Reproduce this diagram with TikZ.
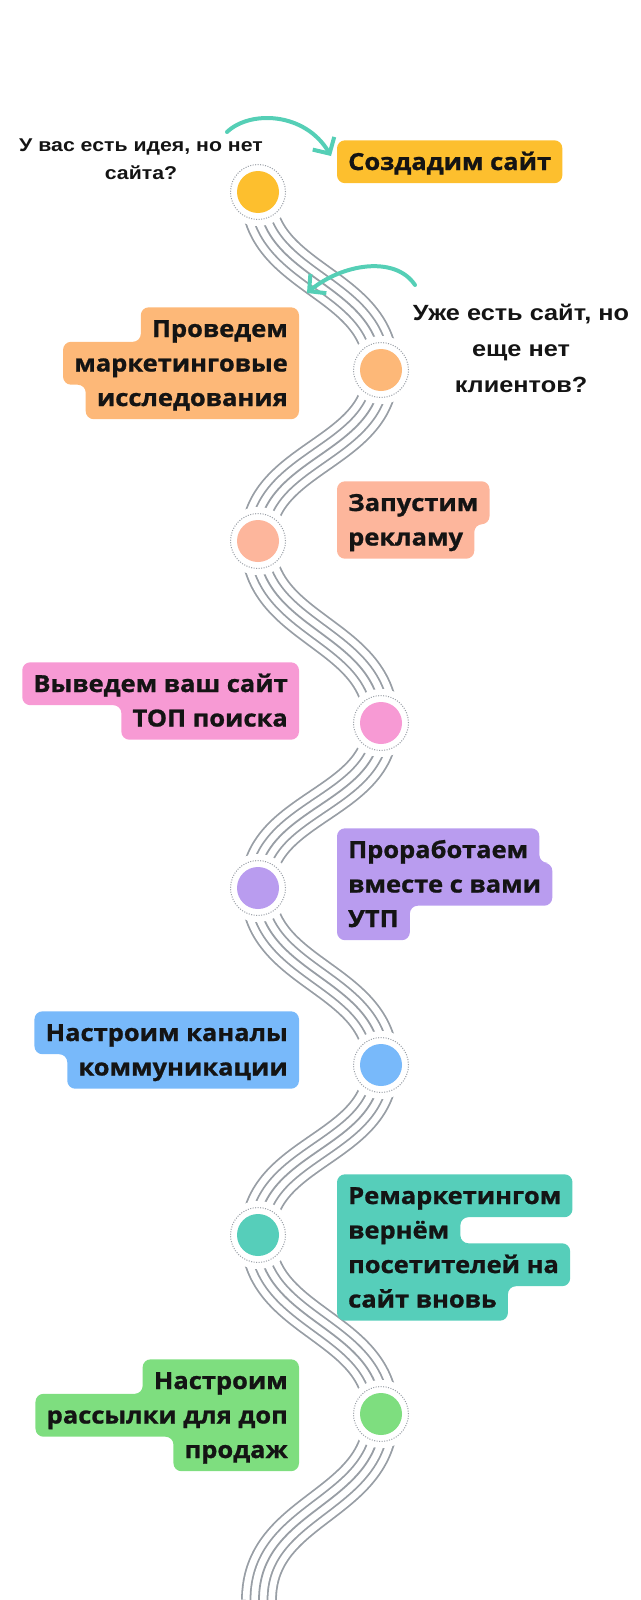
\documentclass[tikz,border=0pt]{standalone}
\usepackage{fontspec}
\setmainfont{Open Sans}
\newfontfamily\boxfont{Open Sans}[FakeStretch=1.085,FakeBold=1]
\newfontfamily\qfont{Liberation Sans}[FakeStretch=1.15]
\usetikzlibrary{arrows.meta}
\pgfdeclarelayer{wave}
\pgfdeclarelayer{boxbg}
\pgfsetlayers{wave,boxbg,main}
\definecolor{cyellow}{HTML}{FDBF2E}
\definecolor{corange}{HTML}{FDB878}
\definecolor{csalmon}{HTML}{FDB69C}
\definecolor{cpink}{HTML}{F79AD4}
\definecolor{cpurple}{HTML}{B99CEF}
\definecolor{cblue}{HTML}{78B9FA}
\definecolor{cteal}{HTML}{56CEBA}
\definecolor{cgreen}{HTML}{7EDE7F}
\definecolor{carrow}{HTML}{55CFB6}
\definecolor{wavegray}{HTML}{989EA5}
\definecolor{txt}{HTML}{141414}
\def\boxfnt{\boxfont\bfseries\fontsize{23.5pt}{34.5pt}\selectfont}
\def\wavepath{(258,192) .. controls (258,281) and (381,281) .. (381,370)
 .. controls (381,455) and (258,456) .. (258,541)
 .. controls (258,632) and (381,632) .. (381,723)
 .. controls (381,805) and (258,806) .. (258,888)
 .. controls (258,976) and (381,977) .. (381,1065)
 .. controls (381,1150) and (258,1150) .. (258,1235)
 .. controls (258,1324) and (381,1325) .. (381,1414)
 .. controls (381,1507) and (259,1507) .. (259,1600)}
\begin{document}
\begin{tikzpicture}[x=1pt,y=-1pt,
  boxline/.style={inner xsep=11pt, inner ysep=10pt,
    text height=19.5pt, text depth=3pt, font=\boxfnt, text=txt},
  lbox/.style={boxline, anchor=base east},
  rbox/.style={boxline, anchor=base west},
  boxfill/.style={fill=#1, rounded corners=8pt},
  cover/.style={circle, fill=white, minimum size=68pt, inner sep=0pt},
  ring/.style={circle, draw=wavegray, fill=white, line width=1pt,
    dash pattern=on 1pt off 1.5pt, minimum size=55pt, inner sep=0pt},
  dot/.style={circle, fill=#1, minimum size=42pt, inner sep=0pt},
  qtext/.style={align=center, inner sep=0pt, text=txt},
  qarrow/.style={draw=carrow, line width=4pt, line cap=round,
    -{Straight Barb[length=12pt,width=25pt]}}
]
\useasboundingbox (0,0) rectangle (640,1600);
\begin{pgfonlayer}{wave}
\begin{scope}
\clip (0,0) rectangle (640,1600);
% wave bundle of five parallel lines
\draw[wavegray, line width=35.8pt] \wavepath;
\draw[white, line width=32.2pt] \wavepath;
\draw[wavegray, line width=18.8pt] \wavepath;
\draw[white, line width=15.2pt] \wavepath;
\draw[wavegray, line width=1.8pt] \wavepath;
\end{scope}
% stations
\foreach \i/\x/\y/\c in {1/258/192/cyellow, 2/381/370/corange, 3/258/541/csalmon,
  4/381/723/cpink, 5/258/888/cpurple, 6/381/1065/cblue, 7/258/1235/cteal, 8/381/1414/cgreen}{
  \node[cover] (k\i) at (\x,\y) {};
  \node[ring] (r\i) at (\x,\y) {};
  \node[dot=\c] (c\i) at (\x,\y) {};
}
\end{pgfonlayer}

% box texts, one node per line
\node[rbox] (b1) at (337,170) {Создадим сайт};

\node[lbox] (b2a) at (299,337) {Проведем};
\node[lbox] (b2b) at (299,371.5) {маркетинговые};
\node[lbox] (b2c) at (299,406) {исследования};

\node[rbox] (b3a) at (337,511) {Запустим};
\node[rbox] (b3b) at (337,545.5) {рекламу};

\node[lbox] (b4a) at (299,692) {Выведем ваш сайт};
\node[lbox] (b4b) at (299,726.5) {ТОП поиска};

\node[rbox] (b5a) at (337,858) {Проработаем};
\node[rbox] (b5b) at (337,892.5) {вместе с вами};
\node[rbox] (b5c) at (337,927) {УТП};

\node[lbox] (b6a) at (299,1041) {Настроим каналы};
\node[lbox] (b6b) at (299,1075.5) {коммуникации};

\node[rbox] (b7a) at (337,1204) {Ремаркетингом};
\node[rbox] (b7b) at (337,1238.5) {вернём};
\node[rbox] (b7c) at (337,1273) {посетителей на};
\node[rbox] (b7d) at (337,1307.5) {сайт вновь};

\node[lbox] (b8a) at (299,1389) {Настроим};
\node[lbox] (b8b) at (299,1423.5) {рассылки для доп};
\node[lbox] (b8c) at (299,1458) {продаж};

% box backgrounds: union of the line boxes
\begin{pgfonlayer}{boxbg}
\fill[boxfill=cyellow] (b1.east) -- (b1.south east) -- (b1.south west)
  -- (b1.north west) -- (b1.north east) -- cycle;
\fill[boxfill=corange] (b2b.east) -- (b2c.south east) -- (b2c.south west)
  -- (b2c.west |- b2b.south) -- (b2b.south west) -- (b2b.north west)
  -- (b2a.west |- b2b.north) -- (b2a.north west) -- (b2a.north east) -- cycle;
\fill[boxfill=csalmon] (b3a.west) -- (b3a.north west) -- (b3a.north east)
  -- (b3a.south east) -- (b3b.east |- b3a.south) -- (b3b.south east)
  -- (b3b.south west) -- cycle;
\fill[boxfill=cpink] (b4a.east) -- (b4b.south east) -- (b4b.south west)
  -- (b4b.west |- b4a.south) -- (b4a.south west) -- (b4a.north west)
  -- (b4a.north east) -- cycle;
\fill[boxfill=cpurple] (b5b.west) -- (b5a.north west) -- (b5a.north east)
  -- (b5a.east |- b5b.north) -- (b5b.north east) -- (b5b.south east)
  -- (b5c.east |- b5b.south) -- (b5c.south east) -- (b5c.south west) -- cycle;
\fill[boxfill=cblue] (b6a.east) -- (b6b.south east) -- (b6b.south west)
  -- (b6b.west |- b6a.south) -- (b6a.south west) -- (b6a.north west)
  -- (b6a.north east) -- cycle;
\fill[boxfill=cteal] (b7b.west) -- (b7a.north west) -- (b7a.north east)
  -- (b7a.south east) -- (b7b.east |- b7a.south) -- (b7b.east |- b7c.north)
  -- (b7c.north east) -- (b7c.south east) -- (b7d.east |- b7c.south)
  -- (b7d.south east) -- (b7d.south west) -- cycle;
\fill[boxfill=cgreen] (b8b.east) -- (b8c.south east) -- (b8c.south west)
  -- (b8c.west |- b8b.south) -- (b8b.south west) -- (b8b.north west)
  -- (b8a.west |- b8b.north) -- (b8a.north west) -- (b8a.north east) -- cycle;
\end{pgfonlayer}

% questions
\node[qtext, anchor=north, font=\qfont\bfseries\fontsize{18.5pt}{28pt}\selectfont]
  (q1) at (141,139) {У вас есть идея, но нет\\сайта?};
\node[qtext, anchor=north, font=\qfont\bfseries\fontsize{22pt}{36pt}\selectfont]
  (q2) at (521,304) {Уже есть сайт, но\\еще нет\\клиентов?};

% arrows
\coordinate (a1s) at (227,132);
\coordinate (a1e) at (331,156);
\coordinate (a2s) at (415,285);
\coordinate (a2e) at (307,293);
\draw[qarrow] (a1s) .. controls (250,110) and (305,112) .. (a1e);
\draw[qarrow] (a2s) .. controls (395,255) and (342,264) .. (a2e);
\end{tikzpicture}
\end{document}
